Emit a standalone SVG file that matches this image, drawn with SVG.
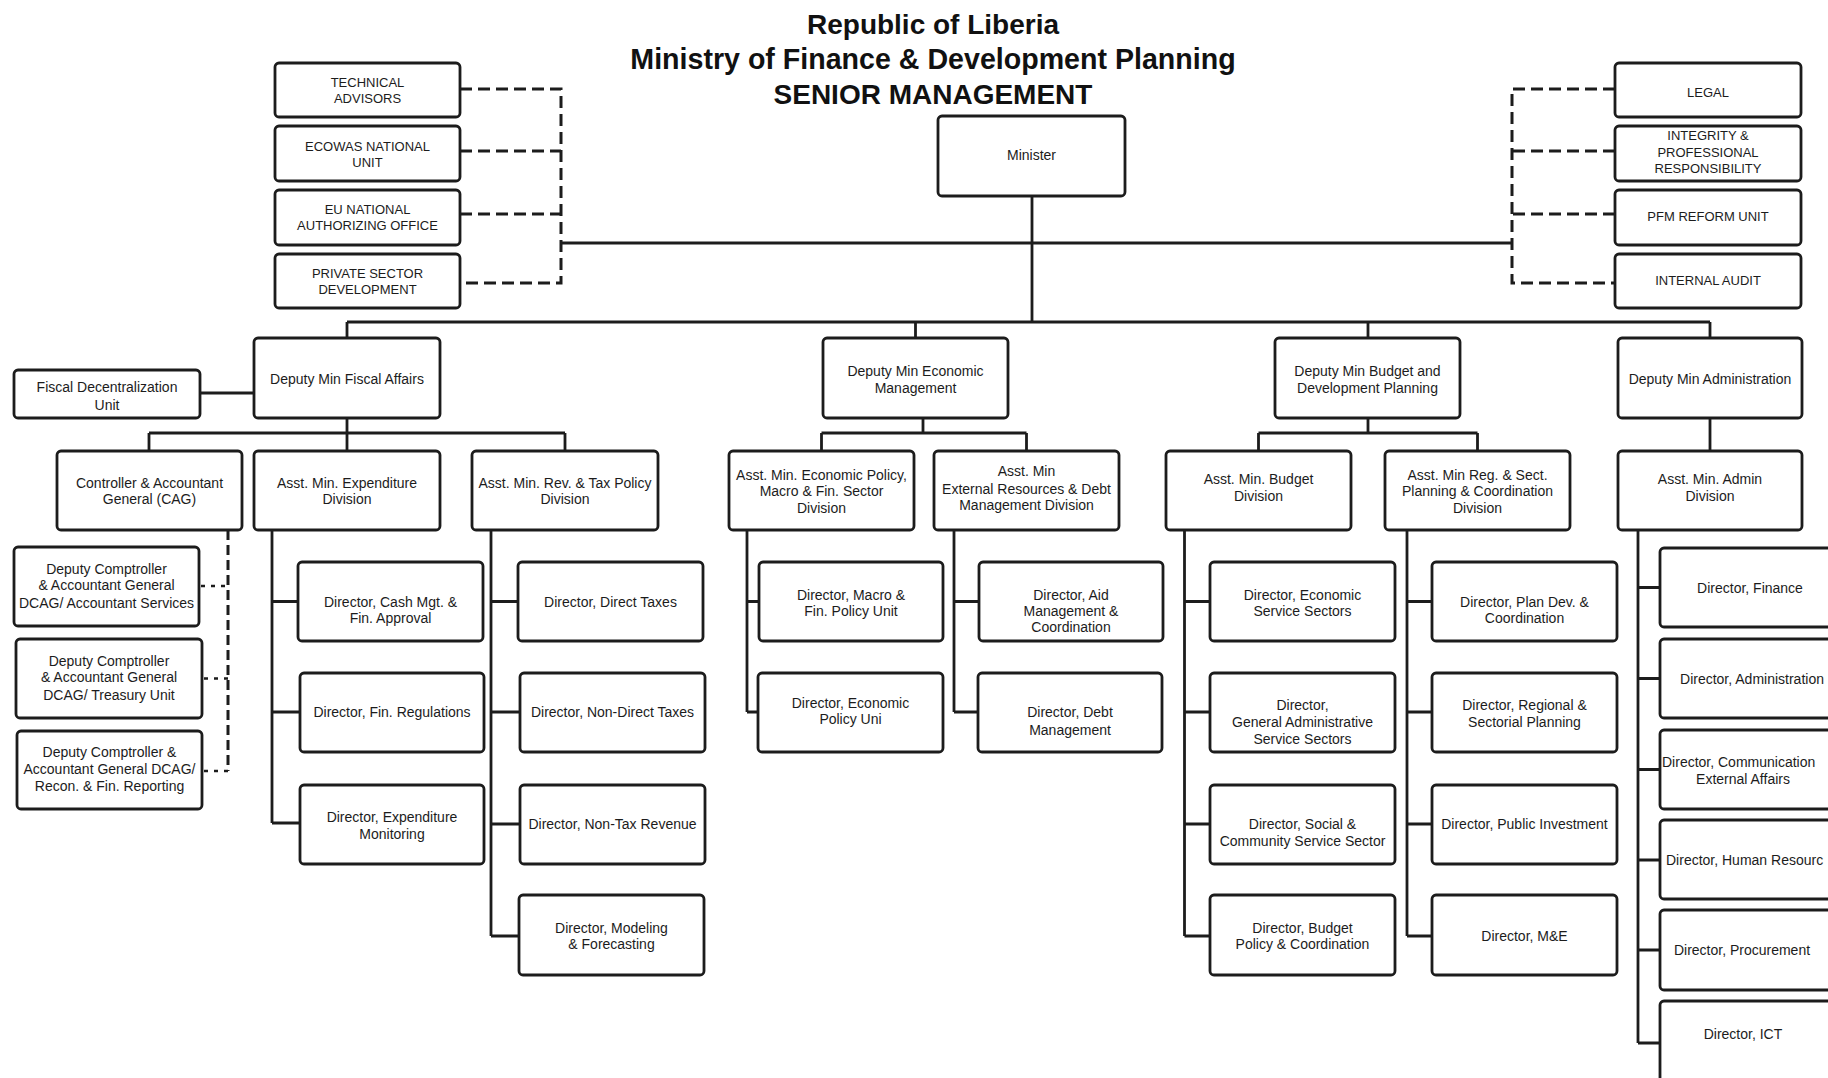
<svg xmlns="http://www.w3.org/2000/svg" width="1828" height="1078" viewBox="0 0 1828 1078">
<style>
.bx{fill:#fff;stroke:#1c1c1c;stroke-width:2.8}
.t{font-family:"Liberation Sans",Arial,sans-serif;font-size:14px;fill:#1c1c1c;text-anchor:middle}
.u{font-size:13px}
.s{text-anchor:start}
.ttl{font-family:"Liberation Sans",Arial,sans-serif;font-size:28px;font-weight:bold;fill:#111;text-anchor:middle}
.ln{fill:none;stroke:#1c1c1c;stroke-width:2.8}
.dl{fill:none;stroke:#1c1c1c;stroke-width:3;stroke-dasharray:12 6}
.dv{fill:none;stroke:#1c1c1c;stroke-width:3;stroke-dasharray:10 5}
.ds{fill:none;stroke:#1c1c1c;stroke-width:2.5;stroke-dasharray:4 6}
</style>
<rect width="1828" height="1078" fill="#fff"/>
<g id="title">
<text class="ttl" x="933" y="34">Republic of Liberia</text>
<text class="ttl" x="933" y="69" style="font-size:28.6px">Ministry of Finance &amp; Development Planning</text>
<text class="ttl" x="933" y="104">SENIOR MANAGEMENT</text>
</g>
<g id="connectors">
<path class="ln" d="M1032 196V322M561 243H1512M347 322H1710M347 322V338M915.5 322V338M1368 322V338M1710 322V338M200 393H254"/>
<path class="dl" d="M460 89H561V283H460M460 151H561M460 214H561M1615 89H1512V283H1615M1615 151H1512M1615 214H1512"/>
<path class="ln" d="M347 418V433M149 433H565M149 433V451M347 433V451M565 433V451"/>
<path class="ln" d="M923 418V433M821.5 433H1026.5M821.5 433V451M1026.5 433V451"/>
<path class="ln" d="M1368 418V433M1258.5 433H1477.5M1258.5 433V451M1477.5 433V451"/>
<path class="ln" d="M1710 418V451"/>
<path class="dv" d="M228 530V771"/>
<path class="ds" d="M201 586H228M204 678.5H228M204 771H228"/>
<path class="ln" d="M272 530V823M272 601.5H298M272 712H300M272 823H300"/>
<path class="ln" d="M491 530V936M491 601.5H518M491 712H520M491 824H520M491 936H519"/>
<path class="ln" d="M747 530V712M747 601.5H759M747 712H758"/>
<path class="ln" d="M954 530V712M954 601.5H979M954 712H978"/>
<path class="ln" d="M1184.5 530V936M1184.5 601.5H1210M1184.5 712H1210M1184.5 824H1210M1184.5 936H1210"/>
<path class="ln" d="M1407 530V936M1407 601.5H1432M1407 712H1432M1407 824H1432M1407 936H1432"/>
<path class="ln" d="M1638 530V1043M1638 587.5H1660M1638 678.5H1660M1638 769.5H1660M1638 860H1660M1638 950H1660M1638 1043H1660"/>
</g>
<g id="n-tech"><rect class="bx" x="275" y="63" width="185" height="54" rx="4"/><text class="t u" x="367.5" y="86.5">TECHNICAL</text><text class="t u" x="367.5" y="103">ADVISORS</text></g>
<g id="n-ecowas"><rect class="bx" x="275" y="126" width="185" height="55" rx="4"/><text class="t u" x="367.5" y="150.5">ECOWAS NATIONAL</text><text class="t u" x="367.5" y="167">UNIT</text></g>
<g id="n-eu"><rect class="bx" x="275" y="190" width="185" height="55" rx="4"/><text class="t u" x="367.5" y="213.5">EU NATIONAL</text><text class="t u" x="367.5" y="230">AUTHORIZING OFFICE</text></g>
<g id="n-psd"><rect class="bx" x="275" y="254" width="185" height="54" rx="4"/><text class="t u" x="367.5" y="277.5">PRIVATE SECTOR</text><text class="t u" x="367.5" y="294">DEVELOPMENT</text></g>
<g id="n-legal"><rect class="bx" x="1615" y="63" width="186" height="54" rx="4"/><text class="t u" x="1708" y="97">LEGAL</text></g>
<g id="n-integrity"><rect class="bx" x="1615" y="126" width="186" height="55" rx="4"/><text class="t u" x="1708" y="140">INTEGRITY &amp;</text><text class="t u" x="1708" y="156.5">PROFESSIONAL</text><text class="t u" x="1708" y="173">RESPONSIBILITY</text></g>
<g id="n-pfm"><rect class="bx" x="1615" y="190" width="186" height="55" rx="4"/><text class="t u" x="1708" y="220.5">PFM REFORM UNIT</text></g>
<g id="n-audit"><rect class="bx" x="1615" y="254" width="186" height="54" rx="4"/><text class="t u" x="1708" y="284.5">INTERNAL AUDIT</text></g>
<g id="n-minister"><rect class="bx" x="938" y="116" width="187" height="80" rx="4"/><text class="t" x="1031.5" y="160">Minister</text></g>
<g id="n-dep-fiscal"><rect class="bx" x="254" y="338" width="186" height="80" rx="4"/><text class="t" x="347" y="384">Deputy Min Fiscal Affairs</text></g>
<g id="n-dep-econ"><rect class="bx" x="823" y="338" width="185" height="80" rx="4"/><text class="t" x="915.5" y="375.5">Deputy Min Economic</text><text class="t" x="915.5" y="393">Management</text></g>
<g id="n-dep-budget"><rect class="bx" x="1275" y="338" width="185" height="80" rx="4"/><text class="t" x="1367.5" y="375.5">Deputy Min Budget and</text><text class="t" x="1367.5" y="393">Development Planning</text></g>
<g id="n-dep-admin"><rect class="bx" x="1618" y="338" width="184" height="80" rx="4"/><text class="t" x="1710" y="384">Deputy Min Administration</text></g>
<g id="n-fiscal-decent"><rect class="bx" x="14" y="370" width="186" height="48" rx="4"/><text class="t" x="107" y="392">Fiscal Decentralization</text><text class="t" x="107" y="409.5">Unit</text></g>
<g id="n-cag"><rect class="bx" x="57" y="451" width="185" height="79" rx="4"/><text class="t" x="149.5" y="487.5">Controller &amp; Accountant</text><text class="t" x="149.5" y="504">General (CAG)</text></g>
<g id="n-asst-exp"><rect class="bx" x="254" y="451" width="186" height="79" rx="4"/><text class="t" x="347" y="487.5">Asst. Min. Expenditure</text><text class="t" x="347" y="504">Division</text></g>
<g id="n-asst-rev"><rect class="bx" x="472" y="451" width="186" height="79" rx="4"/><text class="t" x="565" y="487.5">Asst. Min. Rev. &amp; Tax Policy</text><text class="t" x="565" y="504">Division</text></g>
<g id="n-asst-econ"><rect class="bx" x="729" y="451" width="185" height="79" rx="4"/><text class="t" x="821.5" y="479.5">Asst. Min. Economic Policy,</text><text class="t" x="821.5" y="496">Macro &amp; Fin. Sector</text><text class="t" x="821.5" y="513">Division</text></g>
<g id="n-asst-ext"><rect class="bx" x="934" y="451" width="185" height="79" rx="4"/><text class="t" x="1026.5" y="476">Asst. Min</text><text class="t" x="1026.5" y="493.5">External Resources &amp; Debt</text><text class="t" x="1026.5" y="510">Management Division</text></g>
<g id="n-asst-budget"><rect class="bx" x="1166" y="451" width="185" height="79" rx="4"/><text class="t" x="1258.5" y="484">Asst. Min. Budget</text><text class="t" x="1258.5" y="500.5">Division</text></g>
<g id="n-asst-reg"><rect class="bx" x="1385" y="451" width="185" height="79" rx="4"/><text class="t" x="1477.5" y="479.5">Asst. Min Reg. &amp; Sect.</text><text class="t" x="1477.5" y="496">Planning &amp; Coordination</text><text class="t" x="1477.5" y="513">Division</text></g>
<g id="n-asst-admin"><rect class="bx" x="1618" y="451" width="184" height="79" rx="4"/><text class="t" x="1710" y="484">Asst. Min. Admin</text><text class="t" x="1710" y="500.5">Division</text></g>
<g id="n-dcag-acc"><rect class="bx" x="14" y="547" width="185" height="79" rx="4"/><text class="t" x="106.5" y="574">Deputy Comptroller</text><text class="t" x="106.5" y="590">&amp; Accountant General</text><text class="t" x="106.5" y="607.5">DCAG/ Accountant Services</text></g>
<g id="n-dcag-tre"><rect class="bx" x="16" y="639" width="186" height="79" rx="4"/><text class="t" x="109" y="666">Deputy Comptroller</text><text class="t" x="109" y="682">&amp; Accountant General</text><text class="t" x="109" y="700">DCAG/ Treasury Unit</text></g>
<g id="n-dcag-rec"><rect class="bx" x="17" y="731" width="185" height="78" rx="4"/><text class="t" x="109.5" y="757">Deputy Comptroller &amp;</text><text class="t" x="109.5" y="774">Accountant General DCAG/</text><text class="t" x="109.5" y="791">Recon. &amp; Fin. Reporting</text></g>
<g id="n-dir-cash"><rect class="bx" x="298" y="562" width="185" height="79" rx="4"/><text class="t" x="390.5" y="606.5">Director, Cash Mgt. &amp;</text><text class="t" x="390.5" y="623">Fin. Approval</text></g>
<g id="n-dir-finreg"><rect class="bx" x="300" y="673" width="184" height="79" rx="4"/><text class="t" x="392" y="717">Director, Fin. Regulations</text></g>
<g id="n-dir-expmon"><rect class="bx" x="300" y="785" width="184" height="79" rx="4"/><text class="t" x="392" y="822">Director, Expenditure</text><text class="t" x="392" y="838.5">Monitoring</text></g>
<g id="n-dir-direct"><rect class="bx" x="518" y="562" width="185" height="79" rx="4"/><text class="t" x="610.5" y="606.5">Director, Direct Taxes</text></g>
<g id="n-dir-nondirect"><rect class="bx" x="520" y="673" width="185" height="79" rx="4"/><text class="t" x="612.5" y="717">Director, Non-Direct Taxes</text></g>
<g id="n-dir-nontax"><rect class="bx" x="520" y="785" width="185" height="79" rx="4"/><text class="t" x="612.5" y="829">Director, Non-Tax Revenue</text></g>
<g id="n-dir-model"><rect class="bx" x="519" y="895" width="185" height="80" rx="4"/><text class="t" x="611.5" y="933">Director, Modeling</text><text class="t" x="611.5" y="949">&amp; Forecasting</text></g>
<g id="n-dir-macro"><rect class="bx" x="759" y="562" width="184" height="79" rx="4"/><text class="t" x="851" y="599.5">Director, Macro &amp;</text><text class="t" x="851" y="616">Fin. Policy Unit</text></g>
<g id="n-dir-econpol"><rect class="bx" x="758" y="673" width="185" height="79" rx="4"/><text class="t" x="850.5" y="708">Director, Economic</text><text class="t" x="850.5" y="724">Policy Uni</text></g>
<g id="n-dir-aid"><rect class="bx" x="979" y="562" width="184" height="79" rx="4"/><text class="t" x="1071" y="599.5">Director, Aid</text><text class="t" x="1071" y="616">Management &amp;</text><text class="t" x="1071" y="632">Coordination</text></g>
<g id="n-dir-debt"><rect class="bx" x="978" y="673" width="184" height="79" rx="4"/><text class="t" x="1070" y="717">Director, Debt</text><text class="t" x="1070" y="735">Management</text></g>
<g id="n-dir-ecoserv"><rect class="bx" x="1210" y="562" width="185" height="79" rx="4"/><text class="t" x="1302.5" y="599.5">Director, Economic</text><text class="t" x="1302.5" y="616">Service Sectors</text></g>
<g id="n-dir-genadmin"><rect class="bx" x="1210" y="673" width="185" height="79" rx="4"/><text class="t" x="1302.5" y="710">Director,</text><text class="t" x="1302.5" y="726.5">General Administrative</text><text class="t" x="1302.5" y="744">Service Sectors</text></g>
<g id="n-dir-social"><rect class="bx" x="1210" y="785" width="185" height="79" rx="4"/><text class="t" x="1302.5" y="829">Director, Social &amp;</text><text class="t" x="1302.5" y="845.5">Community Service Sector</text></g>
<g id="n-dir-budpol"><rect class="bx" x="1210" y="895" width="185" height="80" rx="4"/><text class="t" x="1302.5" y="933">Director, Budget</text><text class="t" x="1302.5" y="949">Policy &amp; Coordination</text></g>
<g id="n-dir-plandev"><rect class="bx" x="1432" y="562" width="185" height="79" rx="4"/><text class="t" x="1524.5" y="606.5">Director, Plan Dev. &amp;</text><text class="t" x="1524.5" y="623">Coordination</text></g>
<g id="n-dir-regional"><rect class="bx" x="1432" y="673" width="185" height="79" rx="4"/><text class="t" x="1524.5" y="710">Director, Regional &amp;</text><text class="t" x="1524.5" y="726.5">Sectorial Planning</text></g>
<g id="n-dir-pubinv"><rect class="bx" x="1432" y="785" width="185" height="79" rx="4"/><text class="t" x="1524.5" y="829">Director, Public Investment</text></g>
<g id="n-dir-me"><rect class="bx" x="1432" y="895" width="185" height="80" rx="4"/><text class="t" x="1524.5" y="941">Director, M&amp;E</text></g>
<g id="n-dir-finance"><rect class="bx" x="1660" y="548" width="200" height="79" rx="4"/><text class="t" x="1750" y="592.5">Director, Finance</text></g>
<g id="n-dir-administration"><rect class="bx" x="1660" y="639" width="200" height="79" rx="4"/><text class="t" x="1752" y="683.5">Director, Administration</text></g>
<g id="n-dir-comm"><rect class="bx" x="1660" y="730" width="200" height="79" rx="4"/><text class="t s" x="1662" y="767">Director, Communication</text><text class="t" x="1743" y="784">External Affairs</text></g>
<g id="n-dir-hr"><rect class="bx" x="1660" y="820" width="200" height="79" rx="4"/><text class="t s" x="1666" y="865">Director, Human Resourc</text></g>
<g id="n-dir-proc"><rect class="bx" x="1660" y="910" width="200" height="80" rx="4"/><text class="t" x="1742" y="955">Director, Procurement</text></g>
<g id="n-dir-ict"><rect class="bx" x="1660" y="1001" width="200" height="100" rx="4"/><text class="t" x="1743" y="1039">Director, ICT</text></g>
</svg>
